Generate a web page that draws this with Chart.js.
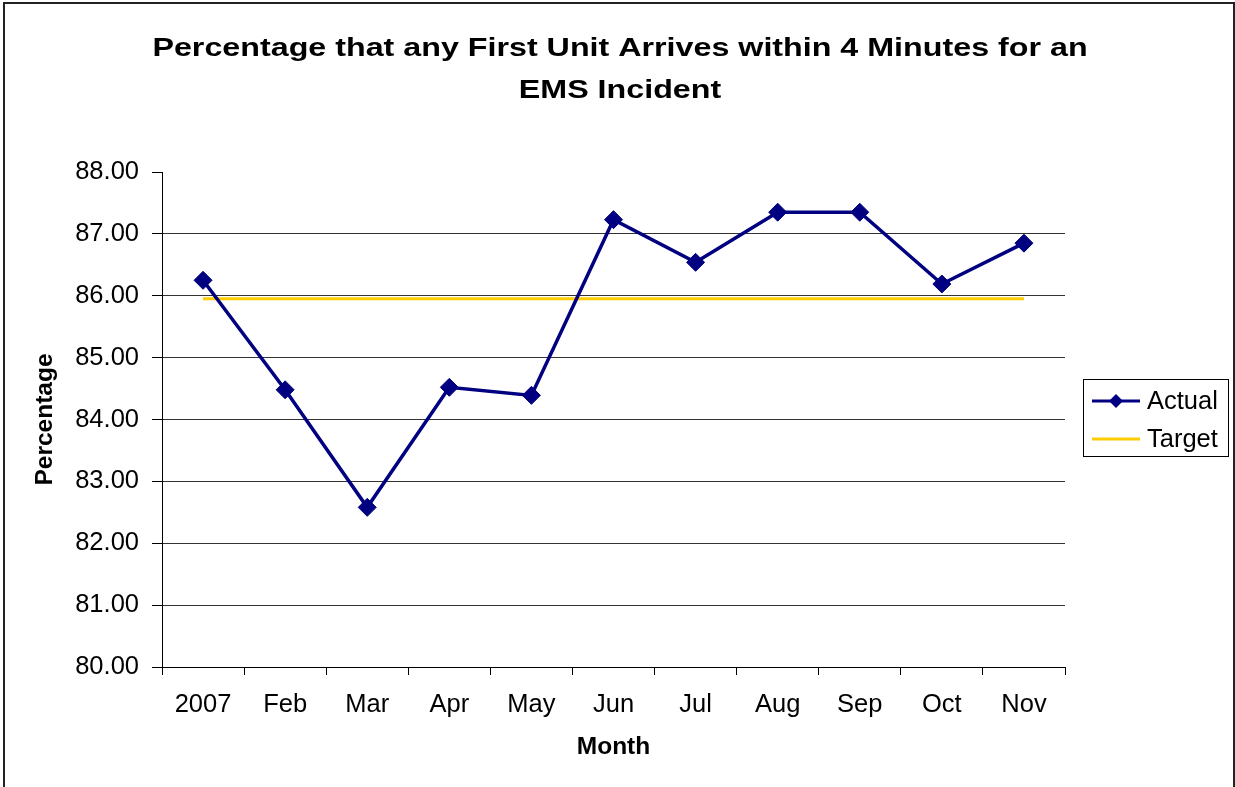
<!DOCTYPE html>
<html>
<head>
<meta charset="utf-8">
<script src="https://cdn.jsdelivr.net/npm/chart.js@4/dist/chart.umd.min.js"></script>
<style>
  body { margin: 0; background: #fff; }
  canvas { display: block; }
</style>
</head>
<body>
<canvas id="chart" width="1235" height="787"></canvas>
<script>
// data
const months = ["2007", "Feb", "Mar", "Apr", "May", "Jun", "Jul", "Aug", "Sep", "Oct", "Nov"]
const actual = [86.25, 84.48, 82.58, 84.52, 84.39, 87.23, 86.54, 87.35, 87.35, 86.19, 86.85]
const target = [85.95, 85.95, 85.95, 85.95, 85.95, 85.95, 85.95, 85.95, 85.95, 85.95, 85.95]
const titleLines = ["Percentage that any First Unit Arrives within 4 Minutes for an", "EMS Incident"]

const FONT = "'Liberation Sans', Arial, sans-serif"
const NAVY = "#000080"
const GOLD = "#FFCC00"

// outer frame + title (Excel stretches the title text a bit wider)
const framePlugin = {
  id: "frame",
  beforeDraw(chart) {
    const ctx = chart.ctx
    ctx.save()
    ctx.strokeStyle = "#222"
    ctx.lineWidth = 2
    ctx.strokeRect(4, 3, 1230, 800)
    ctx.fillStyle = "#000"
    ctx.font = "bold 26px " + FONT
    ctx.textAlign = "center"
    ctx.textBaseline = "middle"
    ctx.translate(620, 0)
    ctx.scale(1.24, 1)
    ctx.fillText(titleLines[0], 0, 49)
    ctx.fillText(titleLines[1], 0, 91)
    ctx.restore()
  }
}

// Excel-style legend box on the right
const legendBox = {
  id: "legendBox",
  afterDraw(chart) {
    const ctx = chart.ctx
    const ds = chart.data.datasets
    ctx.save()
    ctx.strokeStyle = "#000"
    ctx.lineWidth = 1
    ctx.strokeRect(1083.5, 379.5, 145, 77)
    const rows = [401, 439]
    ds.forEach((d, i) => {
      const y = rows[i]
      ctx.strokeStyle = d.borderColor
      ctx.lineWidth = 3
      ctx.beginPath()
      ctx.moveTo(1092, y)
      ctx.lineTo(1140, y)
      ctx.stroke()
      if (d.pointRadius > 0) {
        ctx.fillStyle = d.borderColor
        ctx.beginPath()
        ctx.moveTo(1116, y - 7)
        ctx.lineTo(1123, y)
        ctx.lineTo(1116, y + 7)
        ctx.lineTo(1109, y)
        ctx.closePath()
        ctx.fill()
      }
      ctx.fillStyle = "#000"
      ctx.font = "25.5px " + FONT
      ctx.textAlign = "left"
      ctx.textBaseline = "middle"
      ctx.fillText(d.label, 1147, y + 1)
    })
    ctx.restore()
  }
}

new Chart(document.getElementById("chart"), {
  type: "line",
  data: {
    labels: months,
    datasets: [
      {
        label: "Actual",
        data: actual,
        borderColor: NAVY,
        backgroundColor: NAVY,
        borderWidth: 3.5,
        pointStyle: "rectRot",
        pointRadius: 9,
        pointBorderWidth: 1,
        pointBorderColor: NAVY,
        pointBackgroundColor: NAVY,
        tension: 0
      },
      {
        label: "Target",
        data: target,
        borderColor: GOLD,
        borderWidth: 3,
        pointRadius: 0,
        tension: 0
      }
    ]
  },
  options: {
    responsive: false,
    animation: false,
    layout: { padding: { top: 172, right: 170, left: 0, bottom: 0 } },
    plugins: {
      legend: { display: false },
      title: { display: false },
      tooltip: { enabled: false }
    },
    scales: {
      x: {
        offset: true,
        afterFit(scale) { scale.height = 120 },
        grid: {
          offset: true,
          drawOnChartArea: false,
          color: "#000",
          tickLength: 8
        },
        border: { color: "#000", width: 1 },
        ticks: { color: "#000", font: { family: FONT, size: 25.5 }, padding: 15 },
        title: {
          display: true,
          text: "Month",
          color: "#000",
          font: { family: FONT, size: 24.5, weight: "bold" },
          padding: { top: 0, bottom: 25 }
        }
      },
      y: {
        min: 80,
        max: 88,
        afterFit(scale) { scale.width = 162 },
        grid: {
          color: ctx => (ctx.tick && ctx.tick.value === 88 ? "rgba(0,0,0,0)" : "#333"),
          tickColor: "#000",
          tickLength: 10
        },
        border: { color: "#000", width: 1 },
        ticks: {
          stepSize: 1,
          color: "#000",
          padding: 13,
          font: { family: FONT, size: 25.5 },
          callback: v => v.toFixed(2)
        },
        title: {
          display: true,
          text: "Percentage",
          color: "#000",
          font: { family: FONT, size: 24.5, weight: "bold" },
          padding: { top: 31, bottom: 0 }
        }
      }
    }
  },
  plugins: [framePlugin, legendBox]
})
</script>
</body>
</html>
